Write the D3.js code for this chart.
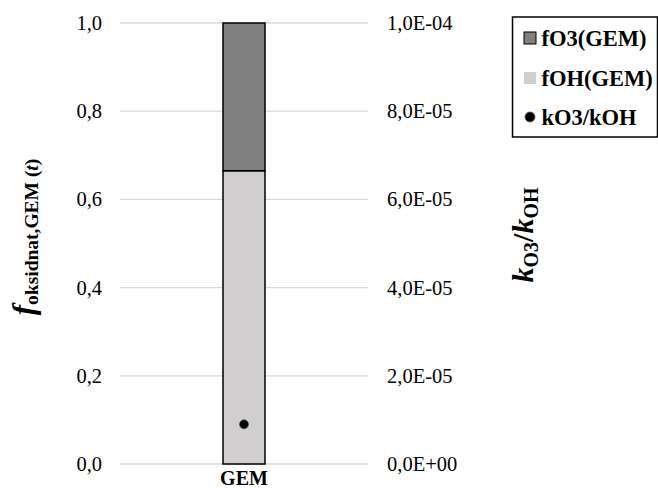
<!DOCTYPE html>
<html><head><meta charset="utf-8">
<script src="https://cdn.jsdelivr.net/npm/d3@7"></script>
<style>
body{margin:0;background:#fff;}
text{font-family:"Liberation Serif","Times New Roman","DejaVu Serif",serif !important;}
</style></head>
<body><svg id="c" width="658" height="488"></svg>
<script>
const categories = ["GEM"];
const fOH = [0.665];
const fO3 = [0.335];
const kRatio = [9.0e-6];
const leftTicks = [0, 0.2, 0.4, 0.6, 0.8, 1.0];
const rightTicks = [0, 2e-5, 4e-5, 6e-5, 8e-5, 1e-4];
const legendLabels = ["fO3(GEM)", "fOH(GEM)", "kO3/kOH"];

const svg = d3.select("#c");
const L = 120, R = 368, T = 23, B = 464;
const x = d3.scaleBand().domain(categories).range([L, R]).padding(0.7103);
const y = d3.scaleLinear().domain([0, 1]).range([B, T]);
const y2 = d3.scaleLinear().domain([0, 1e-4]).range([B, T]);

svg.append("g").selectAll("line").data(leftTicks).join("line")
  .attr("x1", L).attr("x2", R)
  .attr("y1", d => y(d)).attr("y2", d => y(d))
  .attr("stroke", "#d9d9d9").attr("stroke-width", 1.3);

const fmtL = d => d3.format(".1f")(d).replace(".", ",");
const la = svg.append("g").attr("transform", `translate(${102},0)`)
  .call(d3.axisLeft(y).tickValues(leftTicks).tickFormat(fmtL).tickSize(0).tickPadding(0));
la.select(".domain").remove();
la.attr("font-family", null);
la.selectAll("text").attr("font-size", 20.5).attr("fill", "#000");

const fmtR = d => {
  if (d === 0) return "0,0E+00";
  const e = Math.floor(Math.log10(d) + 1e-9);
  const m = d / Math.pow(10, e);
  const es = (e < 0 ? "-" : "+") + String(Math.abs(e)).padStart(2, "0");
  return m.toFixed(1).replace(".", ",") + "E" + es;
};
const ra = svg.append("g").attr("transform", `translate(${387},0)`)
  .call(d3.axisRight(y2).tickValues(rightTicks).tickFormat(fmtR).tickSize(0).tickPadding(0));
ra.select(".domain").remove();
ra.attr("font-family", null);
ra.selectAll("text").attr("font-size", 20.5).attr("fill", "#000");

const stack = categories.map((c, i) => ({c, oh: fOH[i], o3: fO3[i]}));
svg.append("g").selectAll("rect.oh").data(stack).join("rect")
  .attr("x", d => x(d.c)).attr("width", x.bandwidth())
  .attr("y", d => y(d.oh)).attr("height", d => y(0) - y(d.oh))
  .attr("fill", "#d0cece").attr("stroke", "#000").attr("stroke-width", 1.5);
svg.append("g").selectAll("rect.o3").data(stack).join("rect")
  .attr("x", d => x(d.c)).attr("width", x.bandwidth())
  .attr("y", d => y(d.oh + d.o3)).attr("height", d => y(d.oh) - y(d.oh + d.o3))
  .attr("fill", "#808080").attr("stroke", "#000").attr("stroke-width", 1.5);

svg.append("g").selectAll("circle").data(categories).join("circle")
  .attr("cx", d => x(d) + x.bandwidth() / 2).attr("cy", (d, i) => y2(kRatio[i]))
  .attr("r", 4.5).attr("fill", "#000").attr("stroke", "#555").attr("stroke-width", 0.8);

svg.append("g").selectAll("text").data(categories).join("text")
  .attr("x", d => x(d) + x.bandwidth() / 2).attr("y", 484.5)
  .attr("text-anchor", "middle").attr("font-size", 20).attr("font-weight", "bold").text(d => d);

const lt = svg.append("text").attr("transform", "translate(34,237) rotate(-90)")
  .attr("text-anchor", "middle").attr("font-weight", "bold");
lt.append("tspan").attr("font-size", 31).attr("font-style", "italic").text("f");
lt.append("tspan").attr("font-size", 19.5).attr("dy", 4).text("oksidnat,GEM (");
lt.append("tspan").attr("font-size", 19.5).attr("font-style", "italic").text("t");
lt.append("tspan").attr("font-size", 19.5).text(")");

const rt = svg.append("text").attr("transform", "translate(533,235) rotate(-90)")
  .attr("text-anchor", "middle").attr("font-weight", "bold");
rt.append("tspan").attr("font-size", 30).attr("font-style", "italic").text("k");
rt.append("tspan").attr("font-size", 20).attr("dy", 5).text("O3");
rt.append("tspan").attr("font-size", 30).attr("dy", -5).text("/");
rt.append("tspan").attr("font-size", 30).attr("font-style", "italic").text("k");
rt.append("tspan").attr("font-size", 20).attr("dy", 5).text("OH");

const lg = svg.append("g");
lg.append("rect").attr("x", 512.5).attr("y", 17).attr("width", 145).attr("height", 120)
  .attr("fill", "#fff").attr("stroke", "#000").attr("stroke-width", 1.5);
const rowsY = [38, 78, 117];
legendLabels.forEach((lab, i) => {
  const g = lg.append("g").attr("transform", `translate(0,${rowsY[i]})`);
  if (i === 0) g.append("rect").attr("x", 524).attr("y", -6).attr("width", 12).attr("height", 12)
    .attr("fill", "#808080").attr("stroke", "#000").attr("stroke-width", 1);
  else if (i === 1) g.append("rect").attr("x", 524).attr("y", -6).attr("width", 12).attr("height", 12)
    .attr("fill", "#d0cece");
  else g.append("circle").attr("cx", 530).attr("cy", 0).attr("r", 5).attr("fill", "#000").attr("stroke", "#555").attr("stroke-width", 0.8);
  g.append("text").attr("x", 541.5).attr("y", 0).attr("dy", "0.35em")
    .attr("font-size", 22.5).attr("font-weight", "bold").text(lab);
});
</script></body></html>
